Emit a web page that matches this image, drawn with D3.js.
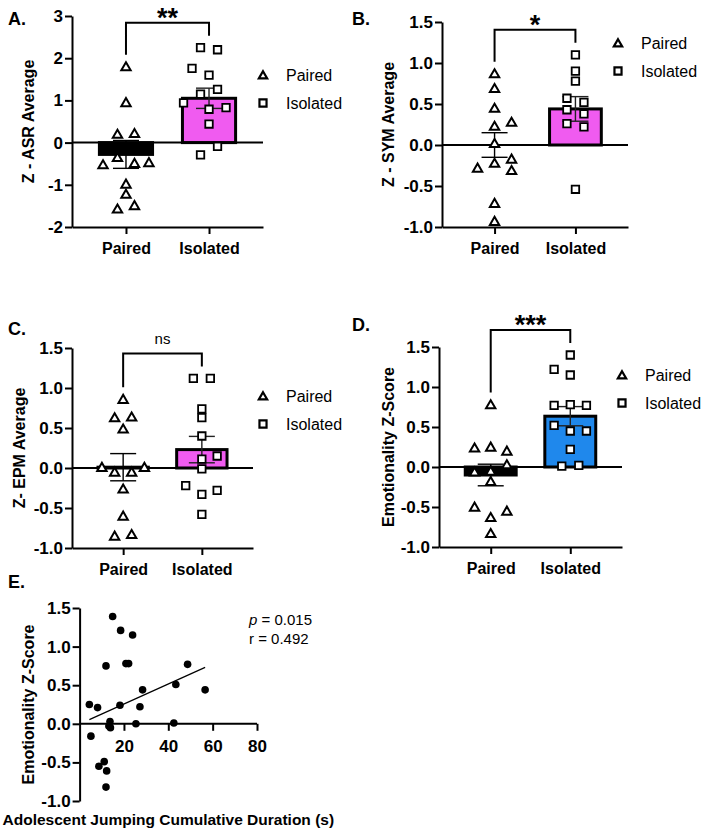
<!DOCTYPE html>
<html><head><meta charset="utf-8">
<script src="https://cdn.jsdelivr.net/npm/d3@7"></script>
<style>
body{margin:0;background:#fff;}
svg{display:block;font-family:"Liberation Sans",Arial,Helvetica,sans-serif;}
</style></head><body>
<svg id="c" width="702" height="835"></svg>
<script>
// ---------- DATA ----------
const groups = ["Paired", "Isolated"];

// A. Z - ASR Average
const asrPaired = [1.80, 0.95, 0.20, 0.22, -0.35, -0.52, -0.49, -0.47, -0.98, -1.22, -1.57, -1.49];
const asrPairedDodge = [0, 0, -1, 1, -1, -2.7, 1, 2.7, 0, 0, -1, 1];
const asrIsolated = [2.25, 2.20, 1.76, 1.60, 1.26, 1.15, 0.94, 0.79, 0.83, 0.44, -0.29, -0.09];
const asrIsolatedDodge = [-1, 1, -2, 0, 1, -1, -3, 0, 2, 0, -1, 1];
const asrMean = [-0.28, 1.05];
const asrSem = [0.33, 0.24];
const asrTicks = [-2, -1, 0, 1, 2, 3];

// B. Z - SYM Average
const symPaired = [0.87, 0.69, 0.45, 0.23, 0.28, 0.02, -0.22, -0.17, -0.28, -0.31, -0.71, -0.93];
const symPairedDodge = [0, 0, 0, 0, 2, 0, 0, 2, -2, 2, 0, 0];
const symIsolated = [1.10, 0.90, 0.78, 0.57, 0.52, 0.43, 0.38, 0.26, 0.22, -0.54];
const symIsolatedDodge = [0, 0, 0, -1, 1, -1, 1, -1, 1, 0];
const symMean = [0.0, 0.44];
const symSem = [0.15, 0.15];

// C. Z- EPM Average
const epmPaired = [0.86, 0.63, 0.64, 0.49, 0.01, 0.01, -0.05, -0.05, -0.26, -0.60, -0.85, -0.83];
const epmPairedDodge = [0, -1, 1, 0, -2.5, 2.5, -1, 1, 0, 0, -1, 1];
const epmIsolated = [1.12, 1.12, 0.74, 0.63, 0.40, 0.11, 0.15, -0.01, -0.22, -0.33, -0.28, -0.58];
const epmIsolatedDodge = [-1, 1, 0, 0, 0, 0, 1.8, 0, -1.9, 0, 1.8, 0];
const epmMean = [0.01, 0.23];
const epmSem = [0.17, 0.165];

// D. Emotionality Z-Score
const emoPaired = [0.78, 0.24, 0.25, 0.20, 0.03, -0.06, -0.05, -0.18, -0.50, -0.55, -0.63, -0.83];
const emoPairedDodge = [0, -1.9, 0, 1.9, 1.9, -1.9, 0, 0, -1.9, 1.9, 0, 0];
const emoIsolated = [1.40, 1.22, 1.15, 0.77, 0.78, 0.77, 0.52, 0.45, 0.45, 0.22, 0.01, 0.02];
const emoIsolatedDodge = [0, -1.9, 0, -1.9, 0, 1.9, -1.9, 0, 1.9, 0, -1, 1];
const emoMean = [-0.10, 0.635];
const emoSem = [0.135, 0.12];

const zTicks = [-1.0, -0.5, 0.0, 0.5, 1.0, 1.5];

// E. correlation
const jumpDuration = [14.9, 18.5, 23.9, 11.9, 20.9, 22.1, 48.7, 43.4, 56.6, 28.4, 4.4, 8.1, 18.2, 27.2, 13.7, 13.2, 25.4, 42.5, 5.1, 8.7, 11.1, 12.2, 11.9, 13.9];
const emoScore =     [1.39, 1.21, 1.15, 0.75, 0.78, 0.78, 0.77, 0.51, 0.44, 0.44, 0.25, 0.21, 0.24, 0.22, 0.03, -0.03, 0.00, 0.01, -0.16, -0.55, -0.49, -0.61, -0.82, -0.05];
const durTicks = [20, 40, 60, 80];
const statLines = [["p", " = 0.015"], ["r", " = 0.492"]];

const sigLabels = ["**", "*", "ns", "***"];

// ---------- DRAW ----------
const svg = d3.select("#c");
const hy = s => s.replace("\u2212", "-");
const fmtInt = d => hy(d3.format("d")(d));
const fmt1 = d => hy(d3.format(".1f")(d));
const DODGE = 8.5;
const TICKFONT = 17;

function styleAxis(g, size) {
  g.select(".domain").attr("stroke", "#000").attr("stroke-width", 2);
  g.selectAll(".tick line").attr("stroke", "#000").attr("stroke-width", 2);
  g.selectAll(".tick text").attr("fill", "#000").attr("font-weight", "bold")
    .attr("font-size", size).attr("font-family", "Liberation Sans, Arial, sans-serif");
}

function panelLabel(t, x, y) {
  svg.append("text").attr("x", x).attr("y", y).attr("font-size", 18)
    .attr("font-weight", "bold").text(t);
}

function barPanel(c) {
  const g = svg.append("g");
  const y = d3.scaleLinear().domain(c.domain).range([c.yBot, c.yTop]);
  const x = d3.scalePoint().domain(groups).range([c.x0, c.x1]).padding(0.65);
  const bw = x.step() * 0.64;

  // axes
  const ya = g.append("g").attr("transform", `translate(${c.x0},0)`)
    .call(d3.axisLeft(y).tickValues(c.ticks).tickFormat(c.fmt).tickSize(7).tickSizeOuter(0).tickPadding(2));
  styleAxis(ya, TICKFONT);
  const xa = g.append("g").attr("transform", `translate(0,${c.yBot})`)
    .call(d3.axisBottom(x).tickSize(7).tickSizeOuter(0).tickPadding(9));
  styleAxis(xa, 16);

  // bars
  g.selectAll("rect.bar").data(groups).join("rect").attr("class", "bar")
    .attr("x", d => x(d) - bw / 2)
    .attr("y", (d, i) => Math.min(y(c.mean[i]), y(0)))
    .attr("width", bw)
    .attr("height", (d, i) => Math.abs(y(c.mean[i]) - y(0)))
    .attr("fill", (d, i) => c.fills[i]).attr("stroke", "#000").attr("stroke-width", 3);

  // zero line
  g.append("line").attr("x1", c.x0).attr("x2", c.x1).attr("y1", y(0)).attr("y2", y(0))
    .attr("stroke", "#000").attr("stroke-width", 2);

  // error bars
  groups.forEach((gr, i) => {
    const cx = x(gr), lo = y(c.mean[i] - c.sem[i]), hi = y(c.mean[i] + c.sem[i]);
    const eb = g.append("g").attr("stroke", i === 0 ? "#000" : "#222").attr("stroke-width", 1.4);
    eb.append("line").attr("x1", cx).attr("x2", cx).attr("y1", lo).attr("y2", hi);
    eb.append("line").attr("x1", cx - 13).attr("x2", cx + 13).attr("y1", lo).attr("y2", lo);
    eb.append("line").attr("x1", cx - 13).attr("x2", cx + 13).attr("y1", hi).attr("y2", hi);
  });

  // points
  const tri = d3.symbol().type(d3.symbolTriangle).size(38)();
  const sq = d3.symbol().type(d3.symbolSquare).size(56)();
  c.paired.forEach((v, i) => {
    g.append("path").attr("d", tri)
      .attr("transform", `translate(${x("Paired") + c.pairedDodge[i] * DODGE},${y(v) + 1})`)
      .attr("fill", "#fff").attr("stroke", "#000").attr("stroke-width", 2).attr("stroke-linejoin", "miter");
  });
  c.iso.forEach((v, i) => {
    g.append("path").attr("d", sq)
      .attr("transform", `translate(${x("Isolated") + c.isoDodge[i] * DODGE},${y(v)})`)
      .attr("fill", "#fff").attr("stroke", "#000").attr("stroke-width", 1.8);
  });

  // significance bracket
  const yl = y(d3.max(c.paired)) - 12, yr = y(d3.max(c.iso)) - 12;
  const top = Math.min(yl, yr) - 13;
  g.append("path")
    .attr("d", `M${x("Paired")},${yl}V${top}H${x("Isolated")}V${yr}`)
    .attr("fill", "none").attr("stroke", "#000").attr("stroke-width", 2);
  const mid = (x("Paired") + x("Isolated")) / 2;
  if (c.sig === "ns") {
    g.append("text").attr("x", mid).attr("y", top - 9).attr("text-anchor", "middle")
      .attr("font-size", 15).text(c.sig);
  } else {
    g.append("text").attr("x", mid).attr("y", top + 4).attr("text-anchor", "middle")
      .attr("font-size", 27).attr("font-weight", "bold").text(c.sig);
  }

  // y label
  g.append("text").attr("transform", `translate(${c.ylabelX},${(c.yTop + c.yBot) / 2}) rotate(-90)`)
    .attr("text-anchor", "middle").attr("dominant-baseline", "central")
    .attr("font-size", 16).attr("font-weight", "bold").text(c.ylabel);

  // legend
  const lg = g.append("g").attr("transform", `translate(${c.legend[0]},${c.legend[1]})`);
  lg.append("path").attr("d", d3.symbol().type(d3.symbolTriangle).size(30)())
    .attr("transform", "translate(0,1)").attr("fill", "#fff").attr("stroke", "#000").attr("stroke-width", 2.2);
  lg.append("text").attr("x", 23).attr("y", 6).attr("font-size", 16).text(groups[0]);
  lg.append("path").attr("d", d3.symbol().type(d3.symbolSquare).size(50)())
    .attr("transform", "translate(0,28)").attr("fill", "#fff").attr("stroke", "#000").attr("stroke-width", 2.2);
  lg.append("text").attr("x", 23).attr("y", 34).attr("font-size", 16).text(groups[1]);
}

const magenta = "#f05bf0", blue = "#1f88ec";

barPanel({ domain: [-2, 3], ticks: asrTicks, fmt: fmtInt, x0: 72, x1: 263, yTop: 16, yBot: 227,
  paired: asrPaired, pairedDodge: asrPairedDodge, iso: asrIsolated, isoDodge: asrIsolatedDodge,
  mean: asrMean, sem: asrSem, fills: ["#000", magenta], sig: sigLabels[0],
  ylabel: "Z - ASR Average", ylabelX: 28, legend: [263, 75] });
barPanel({ domain: [-1, 1.5], ticks: zTicks, fmt: fmt1, x0: 442, x1: 628, yTop: 22, yBot: 227,
  paired: symPaired, pairedDodge: symPairedDodge, iso: symIsolated, isoDodge: symIsolatedDodge,
  mean: symMean, sem: symSem, fills: ["#000", magenta], sig: sigLabels[1],
  ylabel: "Z - SYM Average", ylabelX: 388, legend: [618, 43] });
barPanel({ domain: [-1, 1.5], ticks: zTicks, fmt: fmt1, x0: 72, x1: 253, yTop: 348, yBot: 548,
  paired: epmPaired, pairedDodge: epmPairedDodge, iso: epmIsolated, isoDodge: epmIsolatedDodge,
  mean: epmMean, sem: epmSem, fills: ["#000", magenta], sig: sigLabels[2],
  ylabel: "Z- EPM Average", ylabelX: 19, legend: [263, 396] });
barPanel({ domain: [-1, 1.5], ticks: zTicks, fmt: fmt1, x0: 439, x1: 622, yTop: 347, yBot: 547,
  paired: emoPaired, pairedDodge: emoPairedDodge, iso: emoIsolated, isoDodge: emoIsolatedDodge,
  mean: emoMean, sem: emoSem, fills: ["#000", blue], sig: sigLabels[3],
  ylabel: "Emotionality Z-Score", ylabelX: 388, legend: [622, 375] });

panelLabel("A.", 8, 25);
panelLabel("B.", 352, 25);
panelLabel("C.", 8, 335);
panelLabel("D.", 352, 331);
panelLabel("E.", 8, 588);

// ---------- Panel E ----------
(function () {
  const g = svg.append("g");
  const x = d3.scaleLinear().domain([0, 80]).range([79.6, 257]);
  const y = d3.scaleLinear().domain([-1, 1.5]).range([801, 608]);
  const ya = g.append("g").attr("transform", `translate(${x(0)},0)`)
    .call(d3.axisLeft(y).tickValues(zTicks).tickFormat(fmt1).tickSize(7).tickSizeOuter(0).tickPadding(2));
  styleAxis(ya, TICKFONT);
  const xa = g.append("g").attr("transform", `translate(0,${y(0)})`)
    .call(d3.axisBottom(x).tickValues(durTicks).tickSize(7).tickSizeOuter(0).tickPadding(9));
  xa.select(".domain").attr("d", `M${x(0)},0H${x(80)}`);
  styleAxis(xa, TICKFONT);

  // regression line (least squares)
  const mx = d3.mean(jumpDuration), my = d3.mean(emoScore);
  let sxy = 0, sxx = 0;
  jumpDuration.forEach((v, i) => { sxy += (v - mx) * (emoScore[i] - my); sxx += (v - mx) * (v - mx); });
  const b = sxy / sxx, a = my - b * mx;
  const [xmin, xmax] = d3.extent(jumpDuration);
  g.append("line").attr("x1", x(xmin)).attr("x2", x(xmax)).attr("y1", y(a + b * xmin)).attr("y2", y(a + b * xmax))
    .attr("stroke", "#000").attr("stroke-width", 1.2);

  g.selectAll("circle").data(jumpDuration).join("circle")
    .attr("cx", d => x(d)).attr("cy", (d, i) => y(emoScore[i])).attr("r", 3.8).attr("fill", "#000");

  g.append("text").attr("transform", `translate(28,${(608 + 801) / 2}) rotate(-90)`)
    .attr("text-anchor", "middle").attr("dominant-baseline", "central")
    .attr("font-size", 16).attr("font-weight", "bold").text("Emotionality Z-Score");
  g.append("text").attr("x", (x(0) + x(80)) / 2).attr("y", 825).attr("text-anchor", "middle")
    .attr("font-size", 15.5).attr("font-weight", "bold").text("Adolescent Jumping Cumulative Duration (s)");

  statLines.forEach((s, i) => {
    const t = g.append("text").attr("x", 249).attr("y", 625 + i * 19).attr("font-size", 15);
    t.append("tspan").attr("font-style", i === 0 ? "italic" : "normal").text(s[0]);
    t.append("tspan").text(s[1]);
  });
})();
</script>
</body></html>
